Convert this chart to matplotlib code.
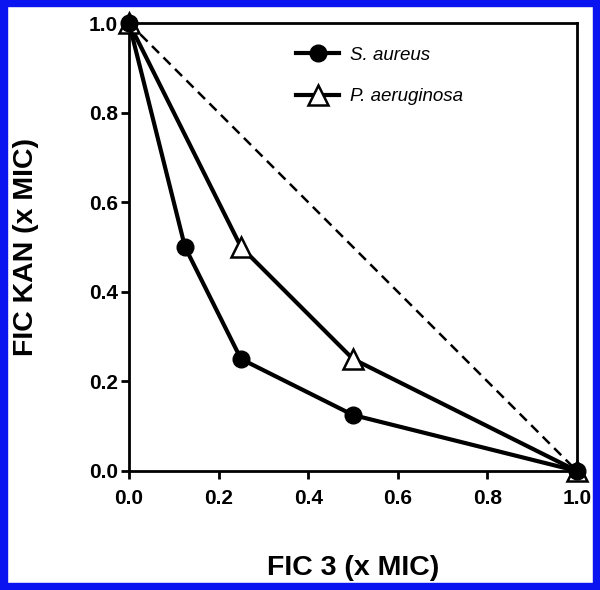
import matplotlib
matplotlib.use("Agg")
import matplotlib.pyplot as plt
from matplotlib.patches import Rectangle

# === Data ===
sa_x = [0.0, 0.125, 0.25, 0.5, 1.0]
sa_y = [1.0, 0.5, 0.25, 0.125, 0.0]
pa_x = [0.0, 0.25, 0.5, 1.0]
pa_y = [1.0, 0.5, 0.25, 0.0]
additivity_x = [0.0, 1.0]
additivity_y = [1.0, 0.0]
ticks = [0.0, 0.2, 0.4, 0.6, 0.8, 1.0]
tick_labels = ["0.0", "0.2", "0.4", "0.6", "0.8", "1.0"]

plt.rcParams["font.family"] = ["Liberation Sans", "DejaVu Sans"]

fig = plt.figure(figsize=(6.0, 5.9), dpi=100)
ax = fig.add_axes([0.215, 0.2017, 0.7467, 0.7593])

ax.plot(additivity_x, additivity_y, color="black", lw=1.8, ls=(0, (4, 2.5)))
ax.plot(sa_x, sa_y, color="black", lw=3, marker="o", ms=12,
        mfc="black", mec="black", clip_on=False, zorder=4, label="S. aureus")
ax.plot(pa_x, pa_y, color="black", lw=3, marker="^", ms=14,
        mfc="white", mec="black", mew=1.8, clip_on=False, zorder=3,
        label="P. aeruginosa")

ax.set_xlim(0, 1)
ax.set_ylim(0, 1)
ax.set_xticks(ticks)
ax.set_xticklabels(tick_labels)
ax.set_yticks(ticks)
ax.set_yticklabels(tick_labels)
for lab in ax.get_xticklabels() + ax.get_yticklabels():
    lab.set_fontweight("bold")
    lab.set_fontsize(15)
ax.tick_params(direction="out", length=6, width=2)
ax.tick_params(axis="x", pad=7)
ax.tick_params(axis="y", pad=2)
for sp in ax.spines.values():
    sp.set_linewidth(2)

ax.set_xlabel("FIC 3 (x MIC)", fontsize=20.5, fontweight="bold", labelpad=34)
ax.set_ylabel("FIC KAN (x MIC)", fontsize=20.5, fontweight="bold", labelpad=36)

leg = ax.legend(loc="upper left", bbox_to_anchor=(0.335, 0.985), frameon=False,
                fontsize=13.5, handlelength=2.3, labelspacing=1.3, handletextpad=0.6)
for t in leg.get_texts():
    t.set_fontstyle("italic")

# blue frame around the whole picture
blue = "#0a14f0"
fig.patches.append(Rectangle((0, 0), 1, 7 / 590, transform=fig.transFigure, color=blue))
fig.patches.append(Rectangle((0, 1 - 6 / 590), 1, 6 / 590, transform=fig.transFigure, color=blue))
fig.patches.append(Rectangle((0, 0), 7 / 600, 1, transform=fig.transFigure, color=blue))
fig.patches.append(Rectangle((1 - 7 / 600, 0), 7 / 600, 1, transform=fig.transFigure, color=blue))

fig.savefig("out.png", dpi=100)
